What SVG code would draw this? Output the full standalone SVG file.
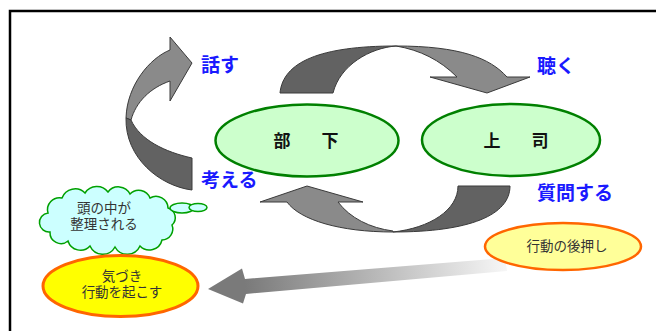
<svg xmlns="http://www.w3.org/2000/svg" width="656" height="331" viewBox="0 0 656 331">
<defs>
<style>
.dark{fill:#626262;stroke:#3a3a3a;stroke-width:1}
.light{fill:#8a8a8a;stroke:#3a3a3a;stroke-width:1}
.person{fill:#ccffcc;stroke:#008000;stroke-width:2.5}
.pname{font-family:"Noto Sans CJK JP","Noto Sans",sans-serif;font-size:17px;font-weight:bold;fill:#111;letter-spacing:7px}
.lbl{font-family:"Noto Sans CJK JP","Noto Sans",sans-serif;font-size:19px;font-weight:bold;fill:#1a1aff}
.note{font-family:"Liberation Sans","Noto Sans CJK JP",sans-serif;font-size:13.5px;fill:#333;text-anchor:middle}
</style>
<linearGradient id="fade" gradientUnits="userSpaceOnUse" x1="245" y1="285" x2="505" y2="265">
<stop offset="0" stop-color="#7a7a7a"/>
<stop offset="1" stop-color="#f6f6f6"/>
</linearGradient>
</defs>
<rect x="10" y="11" width="700" height="400" fill="none" stroke="#000" stroke-width="2.5"/>
<g id="connectors">
<g id="arrow-left">
<path class="light" d="M170,50 C150,58 127,85 126,118 L131,120 C136,102 150,88 170,81 L170,101 L192,63 L170,37 Z"/>
<path class="dark" d="M126,118 C125,158 160,186 192,190 L192,158 C165,152 140,140 131,120 Z"/>
</g>
<g id="arrow-top">
<path class="dark" d="M280,93 C283,62 320,46 396,46 C370,48 340,65 333,93 Z"/>
<path class="light" d="M396,46 C460,46 490,58 507,77 L530,77 L487,93 L430,77 L457,77 C440,60 420,50 396,46 Z"/>
</g>
<g id="arrow-bottom">
<path class="dark" d="M510,186 C510,215 470,232 393,232 C430,228 458,210 458,186 Z"/>
<path class="light" d="M393,232 C340,232 300,220 287,202 L260,202 L307,186 L363,202 L338,202 C350,218 370,228 393,231 Z"/>
</g>
<g id="arrow-push">
<path d="M208,289 L242,268.5 L245,279 L505,258 L507,271 L246,294 L243,303.5 Z" fill="url(#fade)"/>
</g>
</g>
<g id="node-buka">
<ellipse class="person" cx="307" cy="140.5" rx="91.5" ry="36"/>
<text class="pname" x="273.5" y="147">部　下</text>
</g>
<g id="node-joshi">
<ellipse class="person" cx="511" cy="140" rx="89" ry="36"/>
<text class="pname" x="483.5" y="147">上　司</text>
</g>
<g id="label-hanasu"><text class="lbl" x="201" y="72">話す</text></g>
<g id="label-kiku"><text class="lbl" x="537" y="73">聴く</text></g>
<g id="label-kangaeru"><text class="lbl" x="201" y="187">考える</text></g>
<g id="label-shitsumon"><text class="lbl" x="537" y="199.5">質問する</text></g>
<g id="node-cloud">
<path d="M48,213 A12,12 0 0 1 62,198 A14,14 0 0 1 85,193 A14,14 0 0 1 108,192 A13,13 0 0 1 130,194 A12,12 0 0 1 150,198 A12,12 0 0 1 168,208 A10,10 0 0 1 172,225 A11,11 0 0 1 162,240 A13,13 0 0 1 140,246 A14,14 0 0 1 115,247 A14,14 0 0 1 90,246 A13,13 0 0 1 68,241 A11,11 0 0 1 50,232 A8,8 0 0 1 48,213 Z" fill="#ccffff" stroke="#00a000" stroke-width="1.5"/>
<ellipse cx="182" cy="208" rx="12" ry="5" fill="#ccffff" stroke="#00a000" stroke-width="1.5"/>
<ellipse cx="198" cy="207.5" rx="9" ry="4" fill="#ccffff" stroke="#00a000" stroke-width="1.5"/>
<text class="note"><tspan x="104" y="212.8">頭の中が</tspan><tspan x="104" y="229">整理される</tspan></text>
</g>
<g id="node-kizuki">
<ellipse cx="120.5" cy="286" rx="77.5" ry="30.5" fill="#ffff00" stroke="#ff6600" stroke-width="3"/>
<text class="note"><tspan x="122" y="281">気づき</tspan><tspan x="122" y="297">行動を起こす</tspan></text>
</g>
<g id="node-atooshi">
<ellipse cx="563" cy="246.5" rx="78" ry="23.5" fill="#ffff99" stroke="#ff6600" stroke-width="2.5"/>
<text class="note" x="567" y="250.5">行動の後押し</text>
</g>
</svg>
